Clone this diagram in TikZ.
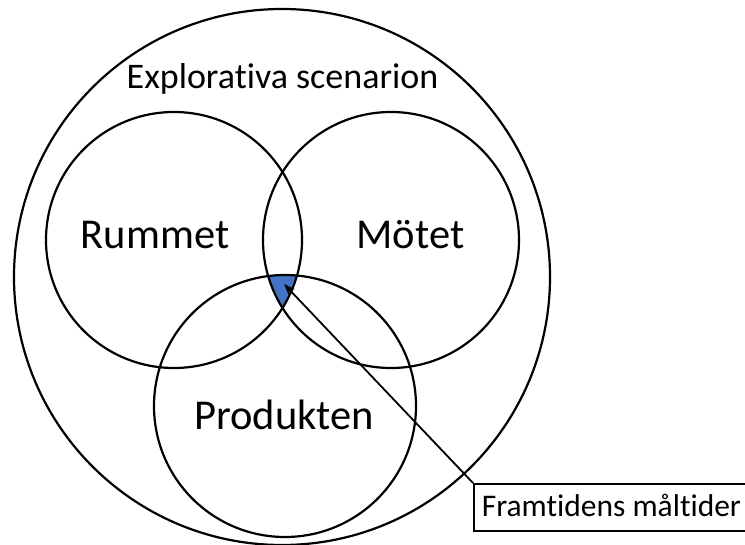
\documentclass[tikz,border=0pt]{standalone}
\usepackage{fontspec}
\setmainfont[Ligatures=NoCommon]{Carlito}
\usetikzlibrary{arrows.meta}
\definecolor{officeblue}{HTML}{4472C4}
\tikzset{
  ring/.style={draw=black, line width=2.2pt},
  biglabel/.style={font=\fontsize{42.5}{50}\selectfont, anchor=base, inner sep=0pt},
  titlelabel/.style={font=\fontsize{36}{44}\selectfont, anchor=base, inner sep=0pt},
  calloutbox/.style={draw=black, line width=1.6pt, fill=white, anchor=north west, inner xsep=8pt, inner ysep=0pt,
     text height=33pt, text depth=14pt, font=\fontsize{31.5}{38}\selectfont},
  pointer/.style={draw=black, line width=1.8pt, -{Stealth[length=11pt,width=8pt]}}
}
\begin{document}
\begin{tikzpicture}[x=1pt,y=-1pt]
\useasboundingbox (0,0) rectangle (745,545);
\clip (0,0) rectangle (745,545);
% blue triple intersection
\begin{scope}
  \clip (174,240) circle (128);
  \clip (391,240) circle (128);
  \clip (285,406) circle (131);
  \fill[officeblue] (0,0) rectangle (745,545);
\end{scope}
\draw[ring] (282,277) circle (268);
\draw[ring] (174,240) circle (128);
\draw[ring] (391,240) circle (128);
\draw[ring] (285,406) circle (131);
\node[titlelabel] (expl) at (282.5,88.6) {Explorativa scenarion};
\node[biglabel] (rummet) at (155,248.5) {Rummet};
\node[biglabel] (motet) at (410.5,248.5) {Mötet};
\node[biglabel] (produkten) at (284,430) {Produkten};
\node[calloutbox] (box) at (473,483) {Framtidens måltider};
\coordinate (tip) at (284,284);
\draw[pointer] (box.north west) -- (tip);
\end{tikzpicture}
\end{document}
